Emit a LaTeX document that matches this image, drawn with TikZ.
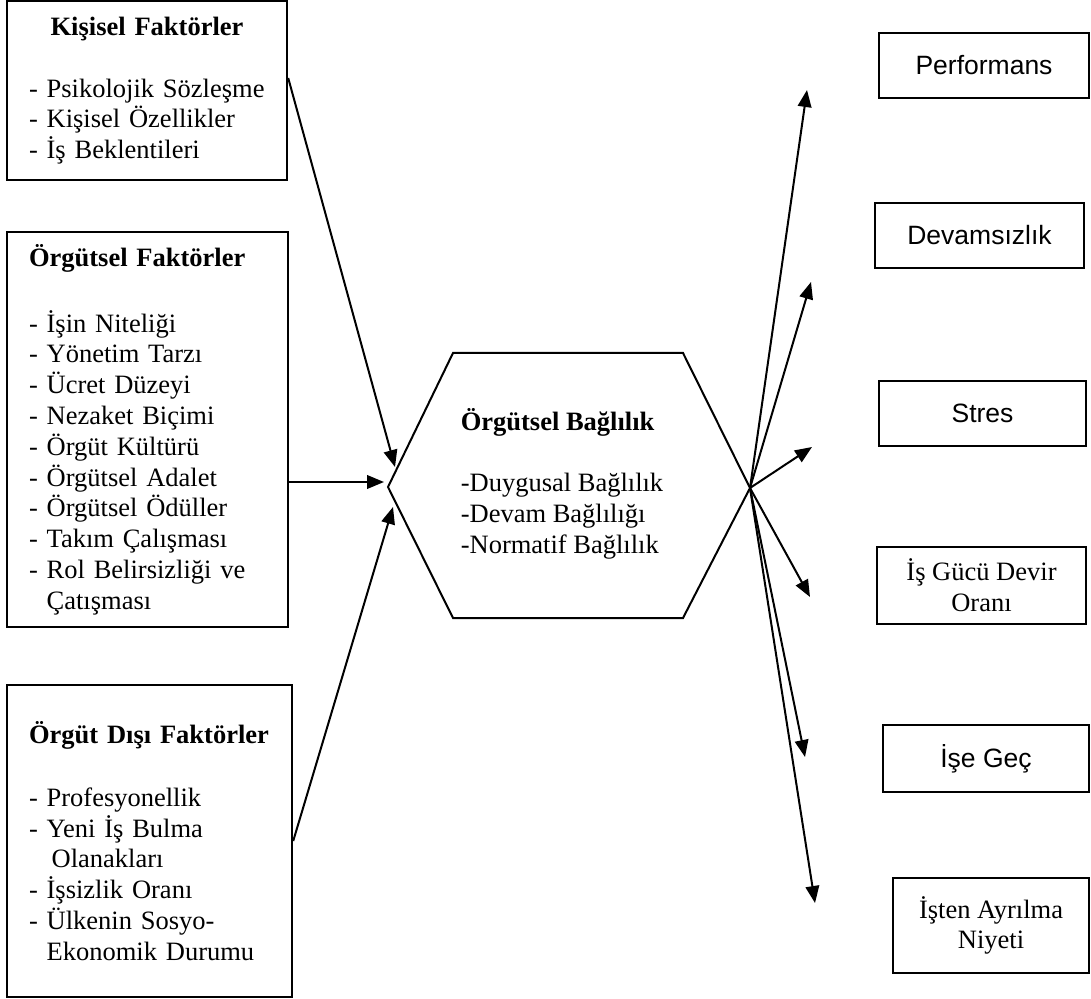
\documentclass[tikz,border=0pt]{standalone}
\usepackage{fontspec}
\setmainfont{Liberation Serif}
\newfontfamily\arialfont{Liberation Sans}
\usetikzlibrary{arrows.meta}
\newcommand{\bsize}{\fontsize{13.25pt}{15.4pt}\selectfont}
\newcommand{\ind}{\hphantom{- }}

\begin{document}
\begin{tikzpicture}[x=0.5pt, y=-0.5pt, line width=1pt,
  factor/.style={draw, line width=1.2pt, align=left, inner xsep=11pt, inner ysep=0pt, font=\bsize},
  result/.style={draw, line width=1.2pt, align=center, inner sep=0pt, font=\bsize},
  arr/.style={-{Triangle[length=8.5pt,width=6.8pt]}}]
  \useasboundingbox (0,0) rectangle (1091,999);
  % factor boxes
  \node[factor, text width=118pt, minimum height=89.5pt] (kisisel) at (147,90.5)
    {\makebox[118pt]{\textbf{Kişisel Faktörler}}\\[15.6pt]- Psikolojik Sözleşme\\- Kişisel Özellikler\\- İş Beklentileri};
  \node[factor, text width=118.5pt, minimum height=197.5pt] (orgutsel) at (147.5,429.5)
    {\textbf{Örgütsel Faktörler}\\[17.6pt]- İşin Niteliği\\- Yönetim Tarzı\\- Ücret Düzeyi\\- Nezaket Biçimi\\- Örgüt Kültürü\\- Örgütsel Adalet\\- Örgütsel Ödüller\\- Takım Çalışması\\- Rol Belirsizliği ve\\\ind Çatışması};
  \node[factor, text width=120.5pt, minimum height=156pt] (disi) at (149.5,841)
    {\textbf{Örgüt Dışı Faktörler}\\[16pt]- Profesyonellik\\- Yeni İş Bulma\\\ind\hspace{2.5pt}Olanakları\\- İşsizlik Oranı\\- Ülkenin Sosyo-\\\ind Ekonomik Durumu};
  % hexagon
  \draw (388,487) coordinate (hexL) -- (453,353) -- (683,353) -- (750,488) coordinate (hexR)
    -- (683,618) -- (453,618) -- cycle;
  \node[font=\bsize, align=left] (bag) at (562,484)
    {\textbf{Örgütsel Bağlılık}\\[15.1pt]-Duygusal Bağlılık\\-Devam Bağlılığı\\-Normatif Bağlılık};
  % result boxes
  \node[result, minimum width=105pt, minimum height=32.5pt] (perf) at (984,65.5) {\arialfont Performans};
  \node[result, minimum width=104.5pt, minimum height=32.5pt] (dev) at (979.5,235.5) {\arialfont Devamsızlık};
  \node[result, minimum width=103.5pt, minimum height=32.5pt] (stres) at (982.5,413.5) {\arialfont Stres};
  \node[result, minimum width=104.5pt, minimum height=38.5pt] (gucu) at (981.5,585.5) {İş Gücü Devir\\Oranı};
  \node[result, minimum width=103pt, minimum height=33.5pt] (gec) at (986,758.5) {\arialfont İşe Geç};
  \node[result, minimum width=98pt, minimum height=47.5pt] (ayr) at (991,925.5) {İşten Ayrılma\\Niyeti};
  % arrows in
  \coordinate (inA) at (395,467);
  \coordinate (inB) at (384,482);
  \coordinate (inC) at (393,507);
  \draw[arr] ([yshift=6.25pt]kisisel.east) -- (inA);
  \draw[arr] ([yshift=-26.25pt]orgutsel.east) -- (inB);
  \draw[arr] (disi.east) -- (inC);
  % arrows out
  \foreach \c/\x/\y in {toPerf/807/90, toDev/811/282, toStres/812/447, toGucu/810/597, toGec/805/757, toAyr/815/903}
    { \coordinate (\c) at (\x,\y); \draw[arr] (hexR) -- (\c); }
\end{tikzpicture}
\end{document}
